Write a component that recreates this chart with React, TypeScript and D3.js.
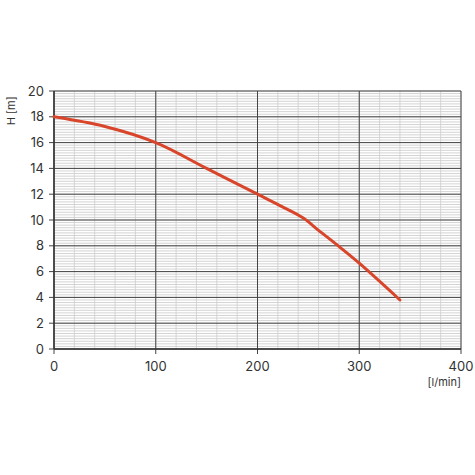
import React from "react";
import * as d3 from "d3";

const flowTicks = [0, 100, 200, 300, 400];
const headTicks = [0, 2, 4, 6, 8, 10, 12, 14, 16, 18, 20];
const flow = [0, 50, 100, 150, 200, 225, 245, 260, 280, 300, 340];
const head = [18, 17.25, 16, 14, 12, 11.0, 10.15, 9.2, 7.95, 6.65, 3.8];

const W = 475, H = 475;
const m = { left: 54, right: 14, top: 91, bottom: 126 };

export default function App() {
  const x = d3.scaleLinear().domain([0, 400]).range([m.left, W - m.right]);
  const y = d3.scaleLinear().domain([0, 20]).range([H - m.bottom, m.top]);
  const minorX = d3.range(0, 401, 20);
  const minorY = d3.range(0, 100.5, 1).map((v) => v / 5);
  const line = d3.line<number>().x((_, i) => x(flow[i])).y((d) => y(d)).curve(d3.curveCatmullRom.alpha(0.5));
  const font = "Inter, 'Open Sans', 'DejaVu Sans', sans-serif";
  return (
    <svg width={W} height={H} style={{ position: "absolute", left: 0, top: 0, background: "#fff" }}>
      <g>
        {minorY.map((v, i) => (
          <line key={"my" + i} x1={x(0)} x2={x(400)} y1={y(v)} y2={y(v)} stroke="#c8c8c8" strokeWidth={0.8} />
        ))}
        {minorX.map((v, i) => (
          <line key={"mx" + i} x1={x(v)} x2={x(v)} y1={y(0)} y2={y(20)} stroke="#cdcdcd" strokeWidth={0.8} />
        ))}
        {headTicks.map((v) => (
          <line key={"Y" + v} x1={x(0) - 5} x2={x(400)} y1={y(v)} y2={y(v)} stroke="#444" strokeWidth={1} />
        ))}
        {flowTicks.map((v) => (
          <line key={"X" + v} x1={x(v)} x2={x(v)} y1={y(0) + 5} y2={y(20)} stroke="#444" strokeWidth={1} />
        ))}
        <line x1={x(0)} x2={x(0)} y1={y(0)} y2={y(20)} stroke="#333" strokeWidth={1.5} />
        <line x1={x(0)} x2={x(400)} y1={y(0)} y2={y(0)} stroke="#333" strokeWidth={1.5} />
      </g>
      <path d={line(head) || ""} fill="none" stroke="#d8452a" strokeWidth={3} strokeLinecap="round" />
      {headTicks.map((v) => (
        <text key={"yl" + v} x={x(0) - 10} y={y(v)} dy="0.36em" textAnchor="end" fontFamily={font} fontSize={13} fill="#333">
          {v}
        </text>
      ))}
      {flowTicks.map((v) => (
        <text key={"xl" + v} x={x(v)} y={y(0) + 22} textAnchor="middle" fontFamily={font} fontSize={13} fill="#333">
          {v}
        </text>
      ))}
      <text transform={`translate(15,${y(18) - 6}) rotate(-90)`} textAnchor="middle" fontFamily={font} fontSize={11} fill="#333">
        H [m]
      </text>
      <text x={x(400)} y={y(0) + 37} textAnchor="end" fontFamily={font} fontSize={11} fill="#333">
        [l/min]
      </text>
    </svg>
  );
}
